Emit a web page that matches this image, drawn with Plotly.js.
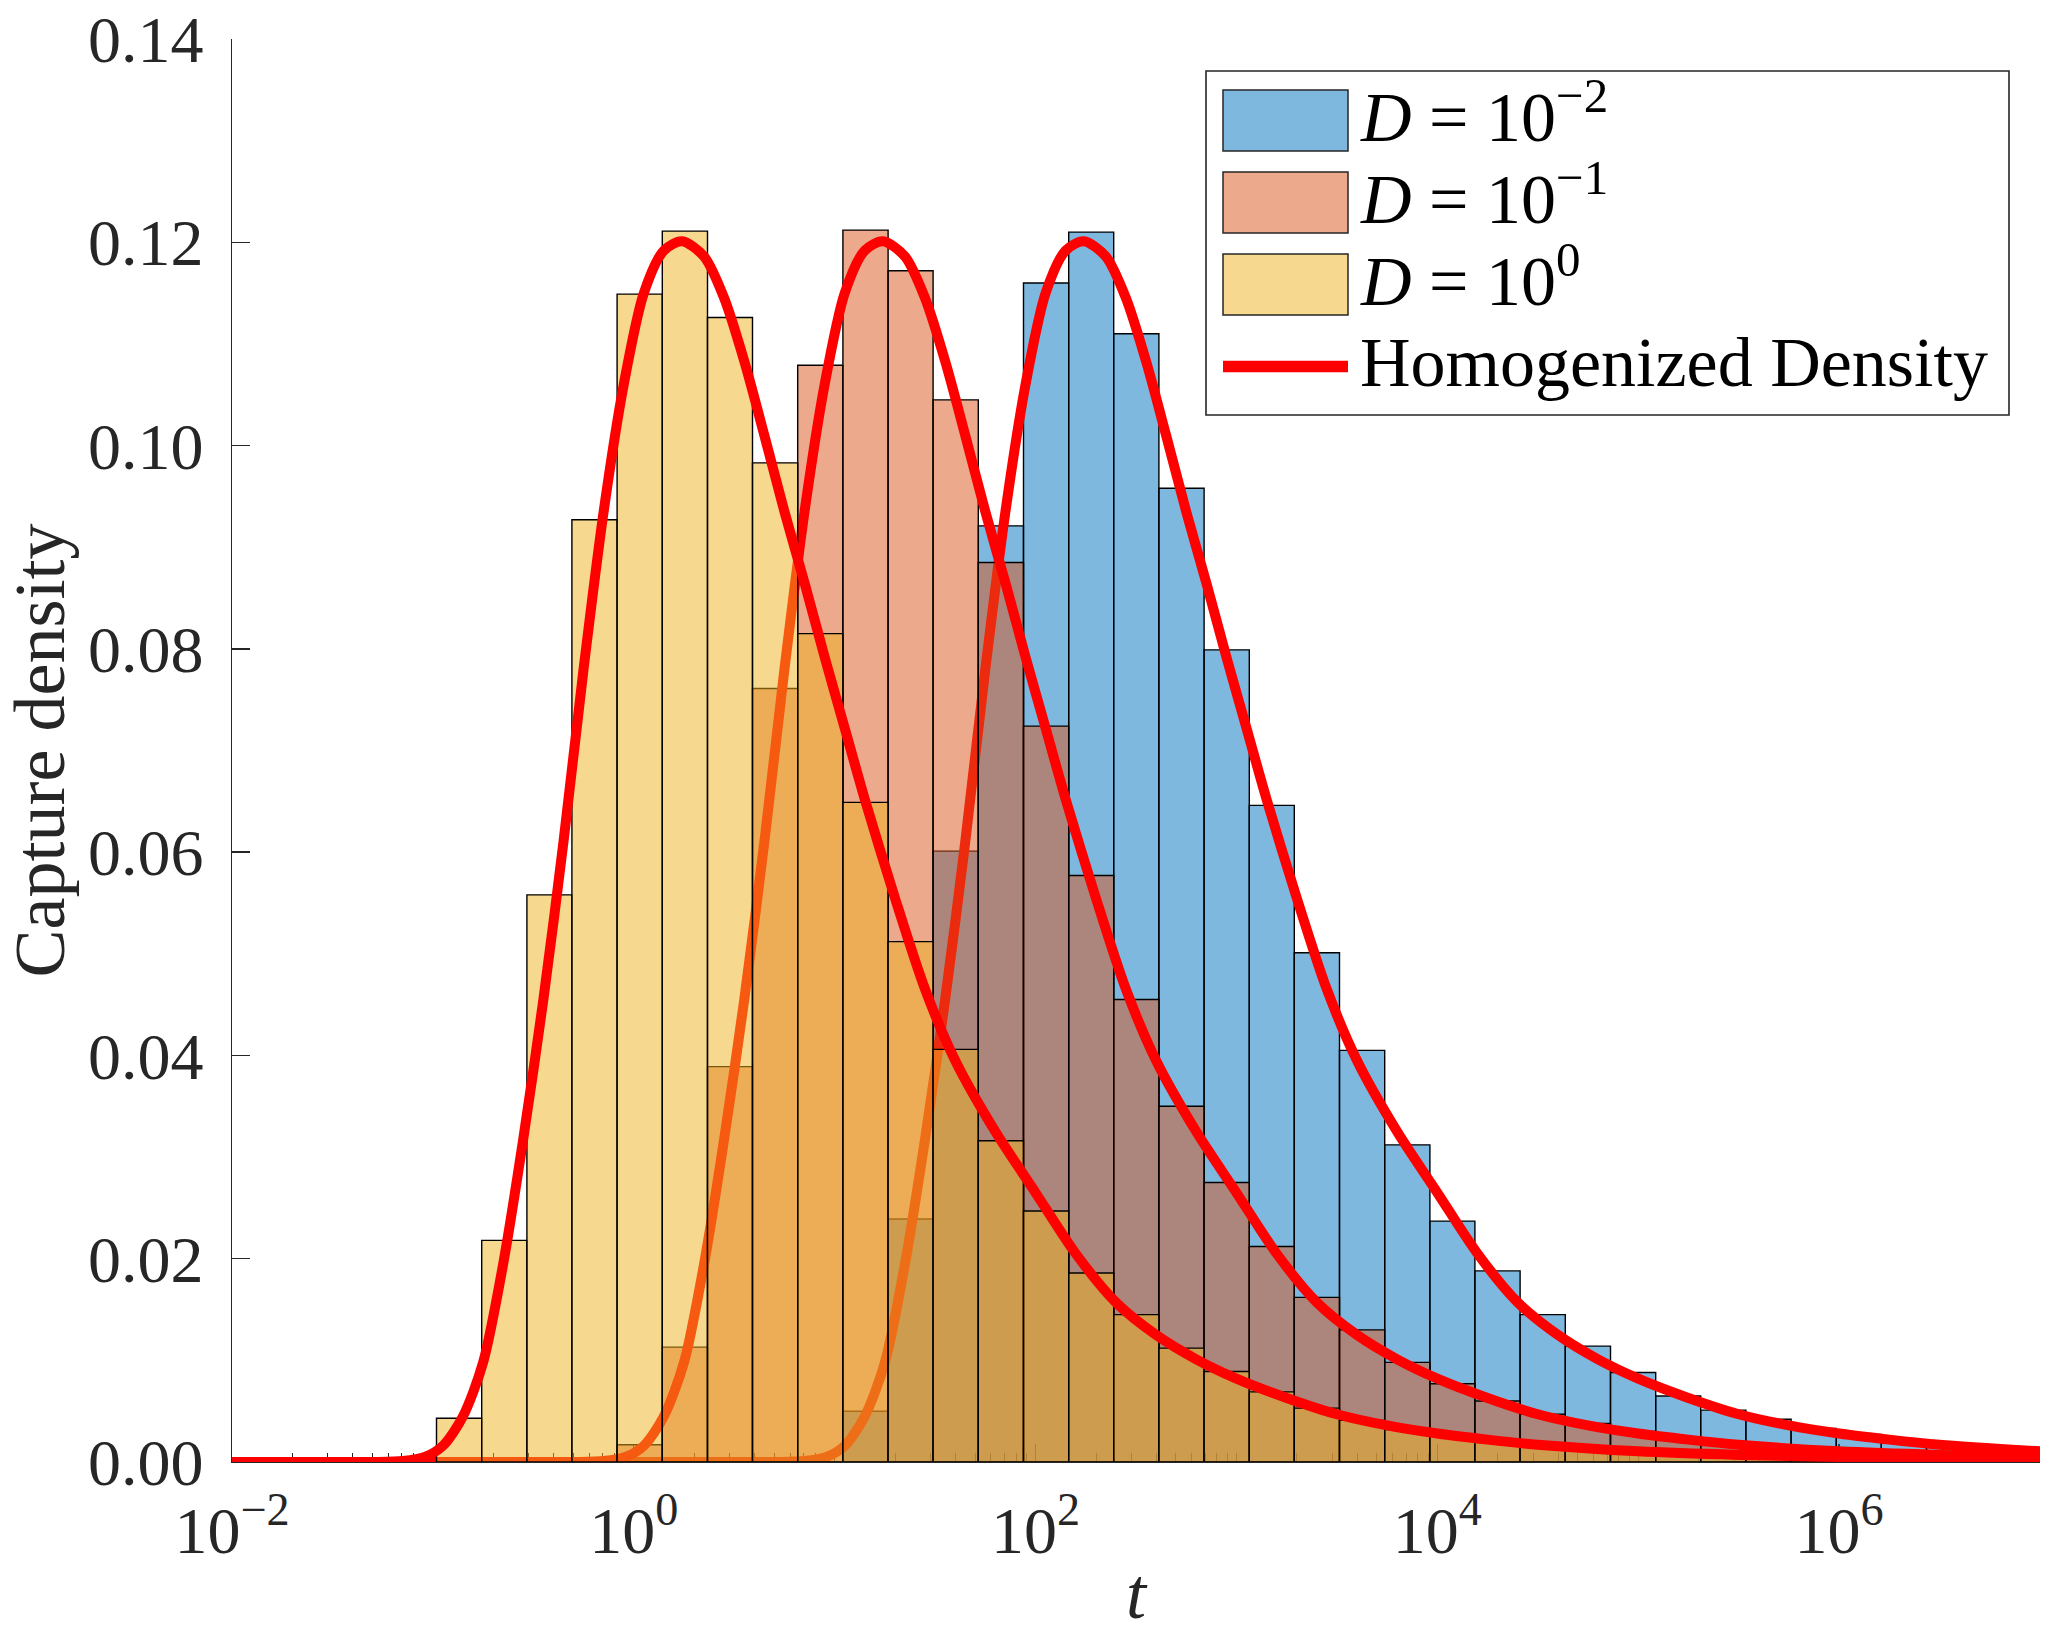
<!DOCTYPE html>
<html>
<head>
<meta charset="utf-8">
<script src="https://cdn.plot.ly/plotly-3.0.1.min.js"></script>
<style>
  body { margin: 0; background: #fff; }
  #chart { width: 2050px; height: 1634px; }
</style>
</head>
<body>
<div id="chart"></div>
<script>
// histogram bin edges, in log10(t)
const binEdges = [-0.982, -0.757, -0.532, -0.308, -0.083, 0.142, 0.367, 0.591, 0.816, 1.041,
    1.266, 1.490, 1.715, 1.940, 2.165, 2.389, 2.614, 2.839, 3.064, 3.288,
    3.513, 3.738, 3.963, 4.187, 4.412, 4.637, 4.862, 5.087, 5.311, 5.536,
    5.761, 5.986, 6.210, 6.435, 6.660, 6.885, 7.109];

// capture density per bin, one list per D
const densD2 = [0, 0, 0, 0, 0, 0, 0, 0, 0, 0.0050,
    0.0239, 0.0601, 0.0921, 0.1160, 0.1210, 0.1110, 0.0958, 0.0799, 0.0646, 0.0501,
    0.0405, 0.0312, 0.0237, 0.0188, 0.0145, 0.0114, 0.0088, 0.0065, 0.0051, 0.0042,
    0.0033, 0.0027, 0.0022, 0.0018, 0.0014, 0.0011];
const densD1 = [0, 0, 0, 0, 0.0017, 0.0113, 0.0389, 0.0761, 0.1079, 0.1212,
    0.1172, 0.1045, 0.0885, 0.0724, 0.0577, 0.0455, 0.0350, 0.0275, 0.0212, 0.0162,
    0.0130, 0.0098, 0.0077, 0.0060, 0.0047, 0.0038, 0.0030, 0.0024, 0.0019, 0.0015,
    0.0012, 0.0010, 0.0008, 0.0006, 0.0005, 0.0004];
const densD0 = [0.0043, 0.0218, 0.0558, 0.0927, 0.1149, 0.1211, 0.1126, 0.0983, 0.0815, 0.0649,
    0.0512, 0.0406, 0.0316, 0.0247, 0.0186, 0.0145, 0.0112, 0.0089, 0.0069, 0.0053,
    0.0041, 0.0032, 0.0026, 0.0021, 0.0017, 0.0013, 0.0011, 0.0009, 0.0007, 0.0006,
    0.0005, 0.0004, 0.0003, 0.0003, 0.0002, 0.0002];

// homogenized density curves (log10 t, density)
const curveX_D2 = [-2.00, 0.70, 0.85, 0.96, 1.05, 1.15, 1.25, 1.35, 1.45, 1.55,
    1.65, 1.75, 1.85, 1.95, 2.05, 2.15, 2.24, 2.35, 2.45, 2.55,
    2.65, 2.75, 2.85, 2.95, 3.05, 3.15, 3.30, 3.45, 3.60, 3.80,
    4.00, 4.20, 4.40, 4.60, 4.80, 5.00, 5.25, 5.50, 5.75, 6.00,
    6.25, 6.50, 7.00];
const curveY_D2 = [0, 0, 0.0001, 0.0005, 0.0016, 0.0045, 0.0098, 0.0195, 0.0318, 0.0455,
    0.0610, 0.0780, 0.0935, 0.1060, 0.1150, 0.1192, 0.1201, 0.1186, 0.1145, 0.1083,
    0.1010, 0.0935, 0.0865, 0.0792, 0.0722, 0.0652, 0.0555, 0.0465, 0.0395, 0.0325,
    0.0265, 0.0205, 0.0157, 0.0125, 0.0101, 0.0082, 0.0063, 0.0047, 0.0036, 0.0028,
    0.0022, 0.0017, 0.00105];

const curveX_D1 = [-2.00, -0.30, -0.15, -0.04, 0.05, 0.15, 0.25, 0.35, 0.45, 0.55,
    0.65, 0.75, 0.85, 0.95, 1.05, 1.15, 1.24, 1.35, 1.45, 1.55,
    1.65, 1.75, 1.85, 1.95, 2.05, 2.15, 2.30, 2.45, 2.60, 2.80,
    3.00, 3.20, 3.40, 3.60, 3.80, 4.00, 4.25, 4.50, 4.75, 5.00,
    5.25, 5.50, 6.00, 6.50, 7.00];
const curveY_D1 = [0, 0, 0.0001, 0.0005, 0.0016, 0.0045, 0.0098, 0.0195, 0.0318, 0.0455,
    0.0610, 0.0780, 0.0935, 0.1060, 0.1150, 0.1192, 0.1201, 0.1186, 0.1145, 0.1083,
    0.1010, 0.0935, 0.0865, 0.0792, 0.0722, 0.0652, 0.0555, 0.0465, 0.0395, 0.0325,
    0.0265, 0.0205, 0.0157, 0.0125, 0.0101, 0.0082, 0.0063, 0.0047, 0.0036, 0.0028,
    0.0022, 0.0017, 0.00105, 0.0007, 0.0005];

const curveX_D0 = [-2.00, -1.30, -1.15, -1.04, -0.95, -0.85, -0.75, -0.65, -0.55, -0.45,
    -0.35, -0.25, -0.15, -0.05, 0.05, 0.15, 0.24, 0.35, 0.45, 0.55,
    0.65, 0.75, 0.85, 0.95, 1.05, 1.15, 1.30, 1.45, 1.60, 1.80,
    2.00, 2.20, 2.40, 2.60, 2.80, 3.00, 3.25, 3.50, 3.75, 4.00,
    4.25, 4.50, 5.00, 5.50, 6.00, 6.50, 7.00];
const curveY_D0 = [0, 0, 0.0001, 0.0005, 0.0016, 0.0045, 0.0098, 0.0195, 0.0318, 0.0455,
    0.0610, 0.0780, 0.0935, 0.1060, 0.1150, 0.1192, 0.1201, 0.1186, 0.1145, 0.1083,
    0.1010, 0.0935, 0.0865, 0.0792, 0.0722, 0.0652, 0.0555, 0.0465, 0.0395, 0.0325,
    0.0265, 0.0205, 0.0157, 0.0125, 0.0101, 0.0082, 0.0063, 0.0047, 0.0036, 0.0028,
    0.0022, 0.0017, 0.00105, 0.0007, 0.0005, 0.00035, 0.00025];

const legendLabels = ['<i>D</i> = 10<sup>\u22122</sup>', '<i>D</i> = 10<sup>\u22121</sup>',
    '<i>D</i> = 10<sup>0</sup>', 'Homogenized Density'];
const xTickVals = [-2, 0, 2, 4, 6];
const xTickText = ['10<sup>\u22122</sup>', '10<sup>0</sup>', '10<sup>2</sup>', '10<sup>4</sup>', '10<sup>6</sup>'];
const yTickVals = [0, 0.02, 0.04, 0.06, 0.08, 0.10, 0.12, 0.14];

const SERIF = '"Liberation Serif", "DejaVu Serif", serif';
const INK = '#262626';
const fills = ['rgba(0,114,189,0.5)', 'rgba(217,83,25,0.5)', 'rgba(237,177,32,0.5)'];

// bar centres / widths from the edges
const binMid = binEdges.slice(0, -1).map((e, i) => (e + binEdges[i + 1]) / 2);
const binWid = binEdges.slice(0, -1).map((e, i) => binEdges[i + 1] - e);

// log minor ticks (2..9 of each decade, plus odd decades)
const minorTicks = [];
for (let d = -2; d < 7; d++) {
    for (let k = 2; k <= 10; k++) {
        const v = d + Math.log10(k);
        if (v < 7 && !xTickVals.includes(Math.round(v * 1e6) / 1e6)) minorTicks.push(v);
    }
}

function histTrace(dens, color, n) {
    return {
        type: 'bar', x: binMid, y: dens, width: binWid,
        xaxis: 'x' + n, yaxis: 'y' + n,
        marker: {color: color, line: {color: '#000', width: 1.4}},
        hoverinfo: 'skip', showlegend: false
    };
}
function curveTrace(xs, ys, n) {
    return {
        type: 'scatter', mode: 'lines', x: xs, y: ys,
        xaxis: 'x' + n, yaxis: 'y' + n,
        line: {color: '#ff0000', width: 10, shape: 'spline', smoothing: 0.8},
        hoverinfo: 'skip', showlegend: false
    };
}

// each D gets its own overlaid subplot so bars and curves stack in drawing order
const data = [
    histTrace(densD2, fills[0], ''), curveTrace(curveX_D2, curveY_D2, ''),
    histTrace(densD1, fills[1], '2'), curveTrace(curveX_D1, curveY_D1, '2'),
    histTrace(densD0, fills[2], '3'), curveTrace(curveX_D0, curveY_D0, '3')
];

// legend drawn by hand (pixel layout of the reference)
const L = 232, R = 2040, T = 39, B = 1462;
const px = p => (p - L) / (R - L);
const py = p => (B - p) / (B - T);
const shapes = [{
    type: 'rect', xref: 'paper', yref: 'paper',
    x0: px(1206), x1: px(2009), y0: py(415), y1: py(71),
    line: {color: INK, width: 1.6}, fillcolor: 'white', layer: 'above'
}];
const annotations = [];
const rowTop = [90, 172, 254];
rowTop.forEach((top, i) => {
    shapes.push({
        type: 'rect', xref: 'paper', yref: 'paper',
        x0: px(1223), x1: px(1348), y0: py(top + 61), y1: py(top),
        line: {color: INK, width: 1.5}, fillcolor: fills[i], layer: 'above'
    });
});
shapes.push({
    type: 'line', xref: 'paper', yref: 'paper',
    x0: px(1223), x1: px(1348), y0: py(366.5), y1: py(366.5),
    line: {color: '#ff0000', width: 11.5}, layer: 'above'
});
[112, 194, 276, 362].forEach((yc, i) => {
    annotations.push({
        xref: 'paper', yref: 'paper', x: px(1358), y: py(yc),
        xanchor: 'left', yanchor: 'middle', showarrow: false,
        text: legendLabels[i], font: {family: SERIF, size: 70, color: '#000'}
    });
});

const tickFont = {family: SERIF, size: 66, color: INK};
const layout = {
    width: 2050, height: 1634,
    margin: {l: L, r: 2050 - R, t: T, b: 1634 - B},
    paper_bgcolor: 'white', plot_bgcolor: 'white',
    barmode: 'overlay', showlegend: false,
    font: {family: SERIF, color: INK},
    xaxis: {
        range: [-2, 7], tickmode: 'array', tickvals: xTickVals, ticktext: xTickText,
        ticks: 'inside', ticklen: 18, tickwidth: 1.3, tickcolor: INK,
        showline: true, linecolor: INK, linewidth: 1.3, mirror: false,
        showgrid: false, zeroline: false, tickfont: tickFont, ticklabelstandoff: 10,
        layer: 'below traces', fixedrange: true,
        minor: {tickmode: 'array', tickvals: minorTicks, ticks: 'inside', ticklen: 9,
                tickwidth: 1, tickcolor: INK, showgrid: false},
        title: {text: '<i>t</i>', font: {family: SERIF, size: 72, color: INK}, standoff: 44}
    },
    yaxis: {
        range: [0, 0.14], tickmode: 'array', tickvals: yTickVals, tickformat: '.2f',
        ticks: 'inside', ticklen: 18, tickwidth: 1.3, tickcolor: INK,
        showline: true, linecolor: INK, linewidth: 1.3, mirror: false,
        showgrid: false, zeroline: false, tickfont: tickFont, ticklabelstandoff: 14,
        layer: 'below traces', fixedrange: true,
        title: {text: 'Capture density', font: {family: SERIF, size: 72, color: INK}, standoff: 32}
    },
    xaxis2: {overlaying: 'x', anchor: 'y2', range: [-2, 7], visible: false, fixedrange: true},
    yaxis2: {overlaying: 'y', anchor: 'x2', range: [0, 0.14], visible: false, fixedrange: true},
    xaxis3: {overlaying: 'x', anchor: 'y3', range: [-2, 7], visible: false, fixedrange: true},
    yaxis3: {overlaying: 'y', anchor: 'x3', range: [0, 0.14], visible: false, fixedrange: true},
    shapes: shapes,
    annotations: annotations
};

Plotly.newPlot('chart', data, layout, {displayModeBar: false, staticPlot: true});
</script>
</body>
</html>
